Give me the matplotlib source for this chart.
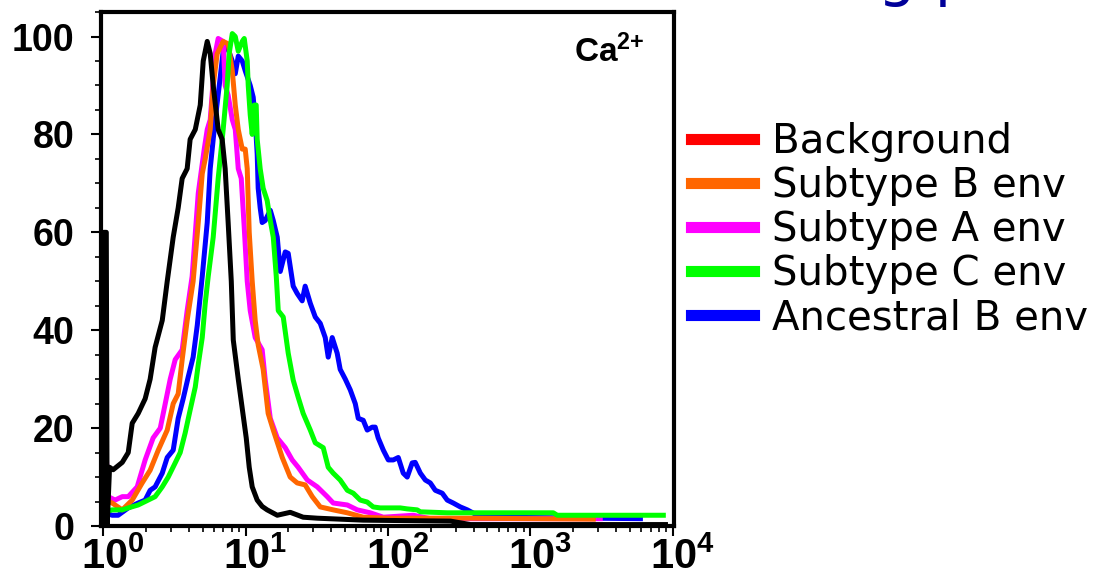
import numpy as np
import matplotlib
matplotlib.use('Agg')
import matplotlib.pyplot as plt
import matplotlib.transforms as mtransforms
from matplotlib.lines import Line2D
from matplotlib.ticker import MultipleLocator, LogLocator, NullFormatter, FixedLocator

plt.rcParams['mathtext.fontset'] = 'custom'
plt.rcParams['mathtext.bf'] = 'Liberation Sans:bold'
plt.rcParams['mathtext.rm'] = 'Liberation Sans:bold'
plt.rcParams['mathtext.it'] = 'Liberation Sans:bold'

black_log = [0.000, 0.004, 0.022, 0.028, 0.045, 0.070, 0.134, 0.176, 0.204, 0.246, 0.295, 0.330,
             0.365, 0.415, 0.450, 0.492, 0.527, 0.555, 0.590, 0.611, 0.647, 0.682, 0.703, 0.731,
             0.752, 0.773, 0.808, 0.836, 0.857, 0.878, 0.900, 0.914, 0.949, 0.977, 1.005, 1.026,
             1.047, 1.082, 1.117, 1.152, 1.223, 1.314, 1.405, 1.504, 1.827, 2.44, 2.58, 3.95]
black_pct = [0, 60, 60, 0, 12, 11.5, 13, 15, 21, 23, 26, 30,
             36.5, 42, 50, 59, 65, 71, 73, 79, 81, 86, 95, 99,
             96.5, 90, 81, 79, 73, 62, 50, 38, 30, 24, 18, 12,
             8, 5.3, 4, 3.3, 2.2, 2.8, 1.8, 1.6, 1.2, 1.0, 0.3, 0.3]

orange_log = [0.000, 0.007, 0.035, 0.063, 0.134, 0.204, 0.274, 0.330, 0.387, 0.450, 0.492, 0.527,
              0.555, 0.590, 0.632, 0.668, 0.696, 0.717, 0.752, 0.773, 0.801, 0.843, 0.878, 0.907,
              0.928, 0.949, 0.977, 0.998, 1.012, 1.026, 1.047, 1.068, 1.089, 1.124, 1.159, 1.195,
              1.258, 1.314, 1.363, 1.419, 1.469, 1.525, 1.616, 1.715, 1.827, 1.996, 2.579, 3.443]
orange_pct = [0, 18, 5, 4.7, 3.3, 5.3, 8.8, 11.4, 15.5, 19.6, 25, 27,
              34, 42, 50, 62, 72, 75, 81, 90, 96.5, 99, 98.5, 93,
              86, 81, 77, 77, 73, 60, 50, 42, 37, 32, 23, 19.6,
              14, 10, 8.8, 8.4, 6, 3.9, 3.3, 2.7, 1.8, 1.6, 1.6, 1.4]

magenta_log = [0.000, 0.007, 0.035, 0.084, 0.134, 0.176, 0.239, 0.295, 0.351, 0.401,
               0.436, 0.471, 0.506, 0.555, 0.590, 0.625, 0.668, 0.710, 0.731, 0.752,
               0.787, 0.808, 0.843, 0.857, 0.878, 0.907, 0.928, 0.949, 0.970, 0.991,
               1.012, 1.033, 1.068, 1.117, 1.138, 1.174, 1.223, 1.279, 1.328, 1.370,
               1.434, 1.504, 1.574, 1.616, 1.715, 1.785, 1.876, 1.968, 2.178, 2.298, 3.492]
magenta_pct = [0, 23.7, 6, 5.3, 6, 6, 8, 13.5, 18, 20,
               25, 30, 34, 36, 44, 51, 68, 77, 81, 83,
               96.5, 99.6, 99, 90, 88, 83, 81, 73, 71, 61,
               50, 44, 38.5, 36, 30, 22, 18, 16, 13.5, 12,
               9.4, 8, 6, 4.7, 4.3, 3.3, 2.7, 1.8, 2.2, 1.5, 1.5]

green_log = [0.000, 0.004, 0.021, 0.063, 0.134, 0.176, 0.246, 0.316, 0.365, 0.415,
             0.457, 0.506, 0.541, 0.576, 0.611, 0.647, 0.668, 0.696, 0.717, 0.738,
             0.773, 0.808, 0.843, 0.871, 0.885, 0.907, 0.928, 0.949, 0.977, 0.991,
             1.012, 1.019, 1.033, 1.047, 1.061, 1.075, 1.082, 1.103, 1.124, 1.152,
             1.174, 1.195, 1.216, 1.230, 1.265, 1.300, 1.335, 1.370, 1.405, 1.455,
             1.490, 1.546, 1.581, 1.616, 1.665, 1.715, 1.757, 1.806, 1.855, 1.897,
             1.946, 2.087, 2.136, 2.206, 2.228, 2.417, 3.162, 3.190, 3.935]
green_pct = [2, 6, 3, 3.3, 3.3, 3.7, 4.3, 5.3, 6, 8,
             10, 12.9, 15, 19, 23.7, 28.4, 33, 38.5, 45.5, 51,
             59, 71, 81, 90, 96.5, 100.6, 100, 97, 99, 99.6,
             95, 90, 84, 80, 86, 86, 79, 73, 69, 66.5,
             62.4, 59, 51, 44, 42.7, 35.3, 29.8, 26.3, 23, 19.6,
             17, 16, 12, 10.8, 9.4, 7.3, 6.7, 5.3, 4.9, 3.9,
             3.7, 3.7, 3.5, 3.3, 2.9, 2.7, 2.7, 2.2, 2.2]

blue_log = [0.007, 0.035, 0.063, 0.105, 0.176, 0.246, 0.295, 0.330, 0.365, 0.415,
            0.450, 0.492, 0.527, 0.562, 0.597, 0.632, 0.661, 0.696, 0.731, 0.752,
            0.787, 0.822, 0.843, 0.871, 0.907, 0.928, 0.949, 0.977, 0.998, 1.033,
            1.054, 1.068, 1.082, 1.089, 1.103, 1.117, 1.138, 1.174, 1.195, 1.223,
            1.244, 1.279, 1.300, 1.335, 1.363, 1.398, 1.419, 1.455, 1.490, 1.525,
            1.560, 1.581, 1.609, 1.644, 1.665, 1.701, 1.736, 1.771, 1.792, 1.827,
            1.855, 1.890, 1.911, 1.932, 1.968, 2.003, 2.038, 2.073, 2.108, 2.136,
            2.171, 2.192, 2.228, 2.263, 2.298, 2.333, 2.382, 2.417, 2.459, 2.509,
            2.558, 2.628, 2.769, 3.774]
blue_pct = [3, 2.5, 2.2, 2.2, 3.7, 4.7, 5.3, 7.3, 8, 10.8,
            14, 15.5, 22, 26, 30.4, 34.5, 41, 51, 62, 73,
            83, 91.6, 97, 98, 95, 92.4, 96, 95, 93, 90,
            87.6, 83, 76, 69, 65, 62, 62.4, 64.5, 62.4, 59,
            52, 56, 55.7, 49, 47.5, 46, 49, 45.5, 42.7, 41.4,
            38.5, 34.5, 38.5, 35.3, 32, 30, 27.8, 25, 22, 21.6,
            19.6, 20.2, 20.2, 18, 15.5, 13.5, 13.5, 14, 10.8, 10,
            12.9, 13, 10.8, 9.4, 8.8, 7.3, 6.7, 5.3, 4.7, 3.9,
            3.3, 2.2, 1.8, 1.5]

legend_labels = ['Background', 'Subtype B env', 'Subtype A env', 'Subtype C env', 'Ancestral B env']
legend_colors = ['#ff0000', '#ff6600', '#ff00ff', '#00ff00', '#0000ff']

ytick_vals = [0, 20, 40, 60, 80, 100]
xtick_exps = [0, 1, 2, 3, 4]

fig = plt.figure(figsize=(10.97, 5.79), dpi=100)
ax = fig.add_axes([0.0921, 0.0915, 0.5223, 0.8877])

# fondo en rojo, tapado por la curva negra
ax.plot(10 ** np.array(black_log), black_pct, color='#ff0000', lw=1.5)

# orden de dibujo: el negro queda encima
curvas = [
    (blue_log, blue_pct, '#0000ff'),
    (magenta_log, magenta_pct, '#ff00ff'),
    (orange_log, orange_pct, '#ff6600'),
    (green_log, green_pct, '#00ff00'),
    (black_log, black_pct, '#000000'),
]
for lx, py, col in curvas:
    ax.plot(10 ** np.array(lx), py, color=col, lw=3.6, solid_joinstyle='round')

ax.set_xscale('log')
ax.set_xlim(10 ** -0.015, 10 ** 4.01)
ax.set_ylim(0, 105)

ax.xaxis.set_major_locator(FixedLocator([10.0 ** e for e in xtick_exps]))
ax.set_xticklabels([r'$\mathbf{10^{%d}}$' % e for e in xtick_exps], fontsize=30)
ax.xaxis.set_minor_locator(LogLocator(base=10, subs=np.arange(2, 10)))
ax.xaxis.set_minor_formatter(NullFormatter())

ax.set_yticks(ytick_vals)
ax.set_yticklabels([str(v) for v in ytick_vals], fontsize=27, fontweight='bold',
                   family='Liberation Sans')
ax.yaxis.set_minor_locator(MultipleLocator(5))

ax.tick_params(which='major', direction='out', length=7, width=1.5, color='black')
ax.tick_params(which='minor', direction='out', length=4, width=1.2, color='black')
ax.tick_params(axis='x', which='major', pad=0)
ax.tick_params(axis='y', which='major', pad=12)

# etiquetas del eje x un poco desplazadas a la derecha (después de tick_params)
desplaza = mtransforms.ScaledTranslation(0.10, 0, fig.dpi_scale_trans)
for lbl in ax.get_xticklabels():
    lbl.set_transform(lbl.get_transform() + desplaza)

for sp in ax.spines.values():
    sp.set_linewidth(3)
    sp.set_color('black')

ax.text(0.949, 0.903, r'$\mathbf{Ca^{2{+}}}$', transform=ax.transAxes,
        ha='right', va='baseline', fontsize=24)

handles = [Line2D([], [], color=c, lw=8) for c in legend_colors]
fig.legend(handles, legend_labels, loc='upper left', bbox_to_anchor=(0.630, 0.789),
           frameon=False, prop={'family': 'DejaVu Sans', 'size': 29},
           handlelength=1.55, handletextpad=0.45, labelspacing=0.1,
           borderpad=0, borderaxespad=0)

# resto del título (cortado en el borde superior)
fig.text(878 / 1097, 1.0104, 'g p', color='#000099', fontsize=43,
         family='DejaVu Sans', va='baseline')

fig.savefig('out.png', dpi=100)
